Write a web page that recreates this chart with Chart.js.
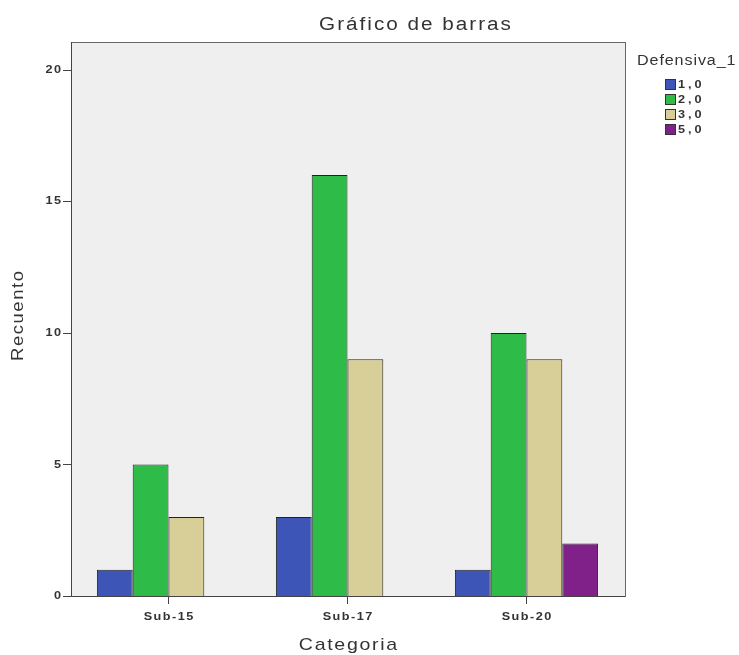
<!DOCTYPE html>
<html>
<head>
<meta charset="utf-8">
<script src="https://cdn.jsdelivr.net/npm/chart.js@4/dist/chart.umd.min.js"></script>
<style>
  body { margin: 0; background: #fff; }
  .wrap { width: 739px; height: 655px; position: relative; }
</style>
</head>
<body>
<div class="wrap"><canvas id="chart"></canvas></div>
<script>
  const categories = ['Sub-15', 'Sub-17', 'Sub-20'];
  const seriesNames = ['1,0', '2,0', '3,0', '5,0'];
  const values10 = [1, 3, 1];
  const values20 = [5, 16, 10];
  const values30 = [3, 9, 9];
  const values50 = [null, null, 2];
  const seriesColors = ['#3d55b6', '#2fbb47', '#d8ce97', '#7f2188'];
  const yTicks = [0, 5, 10, 15, 20];

  const font = 'Liberation Sans, Arial, sans-serif';
  const textColor = '#333';

  // plot frame sits a bit wider than the chart area, as in the SPSS output
  const frame = { left: 71, right: 625 };

  // SPSS export text is wide and loosely set: stretch a little and add spacing
  function text(ctx, str, x, y, css, sp, align, angle) {
    const sx = 1.15;
    let dx = 0;
    if (align === 'center') dx = sp / 2;
    if (align === 'right') dx = sp;
    ctx.save();
    ctx.translate(x, y);
    if (angle) ctx.rotate(angle);
    ctx.translate(dx, 0);
    ctx.scale(sx, 1);
    ctx.font = css;
    ctx.letterSpacing = (sp / sx) + 'px';
    ctx.textAlign = align;
    ctx.fillText(str, 0, 0);
    ctx.restore();
  }

  const decor = {
    id: 'decor',
    beforeDraw(chart) {
      const { ctx, chartArea } = chart;
      ctx.save();
      ctx.fillStyle = '#fff';
      ctx.fillRect(0, 0, chart.width, chart.height);
      ctx.fillStyle = '#efefef';
      ctx.fillRect(frame.left, chartArea.top, frame.right - frame.left, chartArea.bottom - chartArea.top);
      ctx.restore();
    },
    afterDraw(chart) {
      const { ctx, chartArea } = chart;
      const x = chart.scales.x;
      const y = chart.scales.y;
      ctx.save();
      ctx.strokeStyle = '#666';
      ctx.lineWidth = 1;
      ctx.strokeRect(frame.left + 0.5, chartArea.top + 0.5, frame.right - frame.left, chartArea.bottom - chartArea.top);
      ctx.strokeStyle = '#444';
      ctx.beginPath();
      ctx.moveTo(frame.left + 0.5, chartArea.top);
      ctx.lineTo(frame.left + 0.5, chartArea.bottom + 0.5);
      ctx.lineTo(frame.right, chartArea.bottom + 0.5);
      yTicks.forEach(v => {
        const py = Math.round(y.getPixelForValue(v)) + 0.5;
        ctx.moveTo(frame.left - 8, py);
        ctx.lineTo(frame.left, py);
      });
      ctx.stroke();

      ctx.fillStyle = textColor;
      ctx.textBaseline = 'middle';

      // tick labels
      categories.forEach((c, i) => {
        text(ctx, c, x.getPixelForValue(i), 617, 'bold 11px ' + font, 1.5, 'center');
      });
      yTicks.forEach(v => {
        text(ctx, String(v), 61, y.getPixelForValue(v), 'bold 11px ' + font, 1.5, 'right');
      });

      // titles
      text(ctx, 'Gráfico de barras', 415, 25, '18px ' + font, 2, 'center');
      text(ctx, 'Categoria', (frame.left + frame.right) / 2, 645, '17px ' + font, 1.7, 'center');
      text(ctx, 'Recuento', 19, 316, '16px ' + font, 1.6, 'center', -Math.PI / 2);

      // legend
      text(ctx, 'Defensiva_1', 637, 61, '14px ' + font, 0.9, 'left');
      chart.data.datasets.forEach((ds, i) => {
        const cy = 84.5 + i * 15;
        ctx.fillStyle = ds.backgroundColor;
        ctx.fillRect(665, cy - 5.5, 11, 11);
        ctx.strokeStyle = '#333';
        ctx.strokeRect(665.5, cy - 5, 10, 10);
        ctx.fillStyle = textColor;
        text(ctx, ds.label, 678, cy + 0.5, 'bold 11px ' + font, 3, 'left');
      });
      ctx.restore();
    }
  };

  const seriesValues = [values10, values20, values30, values50];

  new Chart(document.getElementById('chart').getContext('2d'), {
    type: 'bar',
    plugins: [decor],
    data: {
      labels: categories,
      datasets: seriesNames.map((name, i) => ({
        label: name,
        data: seriesValues[i],
        backgroundColor: seriesColors[i],
        borderColor: '#222',
        borderWidth: 1,
        barPercentage: 1,
        categoryPercentage: 0.8,
      })),
    },
    options: {
      responsive: true,
      maintainAspectRatio: false,
      animation: false,
      layout: { padding: { top: 42, right: 123, bottom: 0, left: 0 } },
      plugins: {
        legend: { display: false },
        title: { display: false },
        tooltip: { enabled: false },
      },
      scales: {
        x: {
          afterFit: s => { s.height = 59; },
          border: { display: false },
          grid: { drawOnChartArea: false, offset: false, tickLength: 8, color: '#444' },
          ticks: { display: false },
        },
        y: {
          min: 0,
          max: 21.06,
          afterFit: s => { s.width = 79; },
          border: { display: false },
          grid: { display: false },
          ticks: { display: false, stepSize: 5, includeBounds: false },
        },
      },
    },
  });
</script>
</body>
</html>
